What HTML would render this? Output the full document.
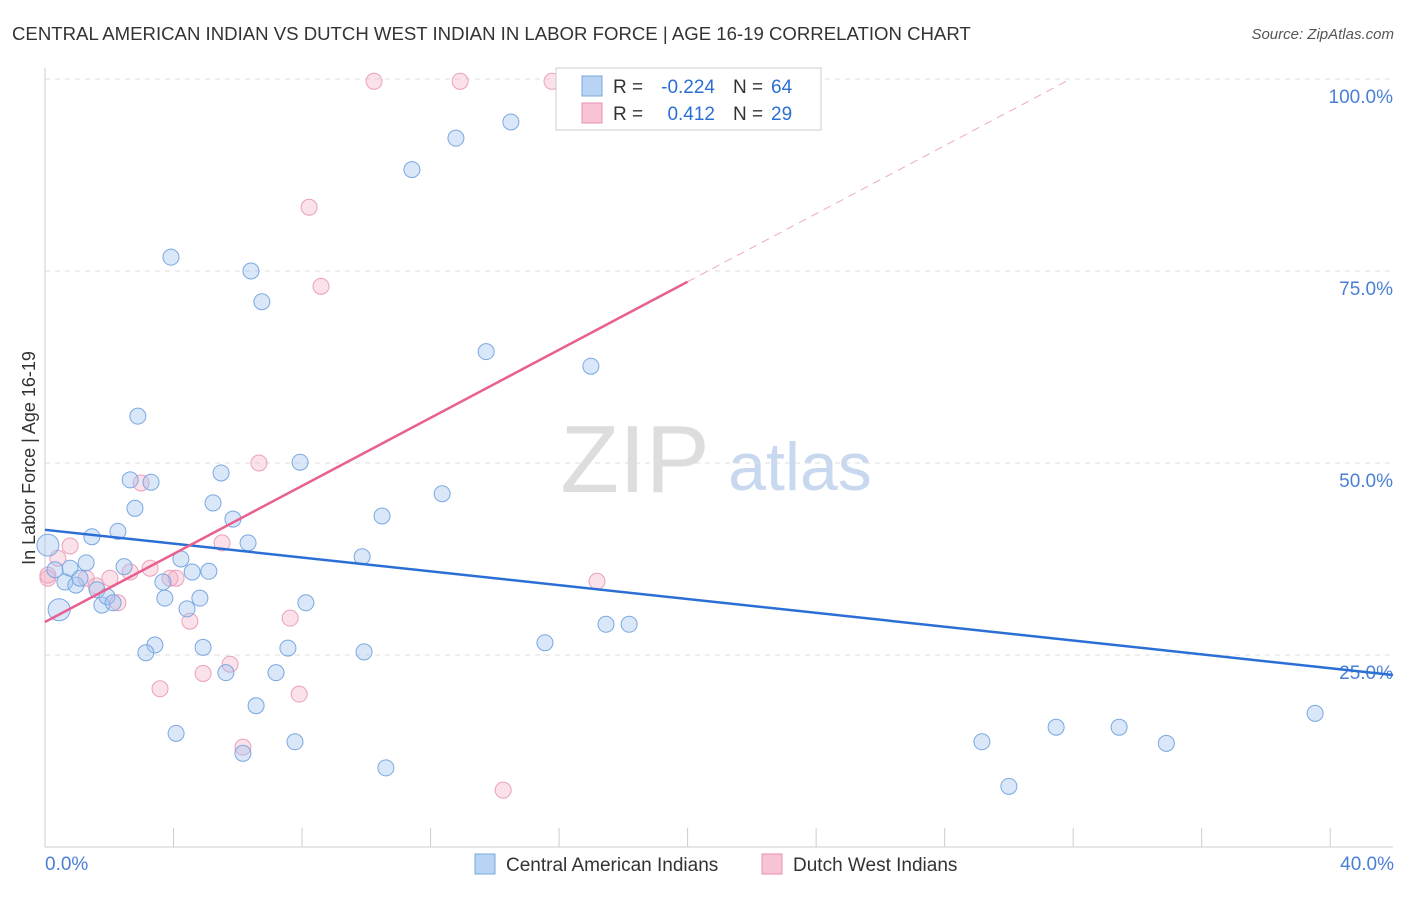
<!DOCTYPE html>
<html><head><meta charset="utf-8"><style>
body{margin:0;background:#fff;font-family:"Liberation Sans",sans-serif;}
svg text{font-family:"Liberation Sans",sans-serif;}
</style></head><body>
<svg id="chart" width="1406" height="892">
<text x="12" y="40" font-size="18.6" fill="#333">CENTRAL AMERICAN INDIAN VS DUTCH WEST INDIAN IN LABOR FORCE | AGE 16-19 CORRELATION CHART</text>
<text x="1394" y="39" font-size="15" fill="#555" text-anchor="end" font-style="italic">Source: ZipAtlas.com</text>
<text x="35" y="458" font-size="18" fill="#333" text-anchor="middle" transform="rotate(-90 35 458)">In Labor Force | Age 16-19</text>
<text x="635" y="492" font-size="96" fill="#ddd" font-family="Liberation Serif" text-anchor="middle">ZIP</text>
<text x="800" y="490" font-size="68" fill="#c8d8ef" text-anchor="middle">atlas</text>
<g id="grid"></g><g id="marks"></g>
<g>
<rect x="556" y="68" width="265" height="62" fill="#fff" stroke="#ccc"/>
<rect x="582" y="76" width="20" height="20" fill="#b9d3f5" stroke="#7aa8e0"/>
<rect x="582" y="103" width="20" height="20" fill="#f8c3d4" stroke="#e890b0"/>
<text x="613" y="93" font-size="19" fill="#333">R =</text>
<text x="715" y="93" font-size="19" fill="#2b6fd6" text-anchor="end">-0.224</text>
<text x="733" y="93" font-size="19" fill="#333">N =</text>
<text x="771" y="93" font-size="19" fill="#2b6fd6">64</text>
<text x="613" y="120" font-size="19" fill="#333">R =</text>
<text x="715" y="120" font-size="19" fill="#2b6fd6" text-anchor="end">0.412</text>
<text x="733" y="120" font-size="19" fill="#333">N =</text>
<text x="771" y="120" font-size="19" fill="#2b6fd6">29</text>
</g>
<g>
<rect x="475" y="854" width="20" height="20" fill="#b9d3f5" stroke="#7aa8e0"/>
<text x="506" y="871" font-size="19" fill="#333">Central American Indians</text>
<rect x="762" y="854" width="20" height="20" fill="#f8c3d4" stroke="#e890b0"/>
<text x="793" y="871" font-size="19" fill="#333">Dutch West Indians</text>
</g>
</svg>
<script>
const yTicks=[25,50,75,100];
const xTickLabels=["0.0%","40.0%"];
const blueX=[0.09,0.31,0.44,0.62,0.78,0.96,1.09,1.28,1.46,1.62,1.77,1.93,2.12,2.27,2.46,2.65,2.80,2.89,3.30,3.42,3.14,3.67,3.73,3.92,4.08,4.23,4.42,4.58,4.82,4.92,5.10,5.23,5.48,5.63,5.85,6.32,6.41,6.57,6.75,6.16,7.19,7.56,7.78,7.94,8.12,9.87,9.93,10.49,10.61,11.42,12.36,12.79,13.73,14.50,15.56,16.99,17.46,18.18,29.16,30.00,31.47,33.43,34.90,39.53];
const blueY=[39.3,36.1,30.9,34.5,36.3,34.1,35.0,37.0,40.4,33.5,31.5,32.6,31.8,41.1,36.5,47.8,44.1,56.1,47.5,26.3,25.3,34.5,32.4,76.8,14.8,37.5,31.0,35.8,32.4,26.0,35.9,44.8,48.7,22.7,42.7,39.6,75.0,18.4,71.0,12.2,22.7,25.9,13.7,50.1,31.8,37.8,25.4,43.1,10.3,88.2,46.0,92.3,64.5,94.4,26.6,62.6,29.0,29.0,13.7,7.9,15.6,15.6,13.5,17.4];
const pinkX=[0.09,0.40,0.78,1.28,1.59,2.02,2.27,2.65,2.99,3.27,3.58,3.89,4.08,4.51,4.92,5.51,5.76,6.16,6.66,7.63,7.91,8.22,8.59,10.24,12.92,14.26,15.78,17.18,0.09];
const pinkY=[35.0,37.6,39.2,35.0,34.0,35.0,31.8,35.8,47.4,36.3,20.6,35.0,35.0,29.4,22.6,39.6,23.8,13.0,50.0,29.8,19.9,83.3,73.0,99.7,99.7,7.4,99.7,34.6,35.4];
const blueLine=[41.3,22.4], pinkLine=[29.3,73.6];
const X0=45,XS=32.13,Y0=847,YS=7.68;
const xs=v=>X0+v*XS, ys=v=>Y0-v*YS;
const NS="http://www.w3.org/2000/svg";
const grid=document.getElementById('grid'), marks=document.getElementById('marks');
function mk(tag,attrs,parent){const e=document.createElementNS(NS,tag);for(const k in attrs)e.setAttribute(k,attrs[k]);parent.appendChild(e);return e;}
yTicks.forEach(t=>{
 const l=mk('line',{x1:45,x2:1393,y1:ys(t),y2:ys(t),stroke:'#ddd','stroke-dasharray':'5,5'},grid);
 
 
 const tx=mk('text',{x:1393,y:ys(t)+24,'font-size':19,fill:'#4a7fd6','text-anchor':'end'},grid);
 tx.textContent=t.toFixed(1)+'%';
 
 
});
const ax=mk('line',{x1:45,x2:1393,y1:847,y2:847,stroke:'#ccc'},grid);


const ay=mk('line',{x1:45,x2:45,y1:68,y2:847,stroke:'#ccc'},grid);


for(let i=0;i<=10;i++){const t=mk('line',{x1:xs(i*4),x2:xs(i*4),y1:828,y2:847,stroke:'#ccc'},grid);
 
 }
[[0,'start',45],[40,'end',1394]].forEach((d,i)=>{const t=mk('text',{x:d[2],y:870,'font-size':19,fill:'#4a7fd6','text-anchor':d[1]},grid);t.textContent=xTickLabels[i];
 
 });
pinkX.forEach((x,i)=>{const c=mk('circle',{cx:xs(x),cy:ys(pinkY[i]),r:8,fill:'rgba(244,170,196,0.35)',stroke:'#eba0bb'},marks);
 
 });
blueX.forEach((x,i)=>{const c=mk('circle',{cx:xs(x),cy:ys(blueY[i]),r:(i==0||i==2)?11:8,fill:'rgba(160,195,240,0.4)',stroke:'#7aa8e0'},marks);
 
 });
const xe=(1393-45)/XS;
const bl=mk('line',{x1:xs(0),y1:ys(blueLine[0]),x2:xs(xe),y2:ys(blueLine[1]),stroke:'#2b6fd6','stroke-width':2.5},marks);


const pl=mk('line',{x1:xs(0),y1:ys(pinkLine[0]),x2:xs(20),y2:ys(pinkLine[1]),stroke:'#e8608f','stroke-width':2.5},marks);


const slope=(pinkLine[1]-pinkLine[0])/20, xEnd=(100-pinkLine[0])/slope;
const pd=mk('line',{x1:xs(20),y1:ys(pinkLine[1]),x2:xs(xEnd),y2:ys(100),stroke:'#eeaac0','stroke-width':1,'stroke-dasharray':'8,6'},marks);


</script>
</body></html>
